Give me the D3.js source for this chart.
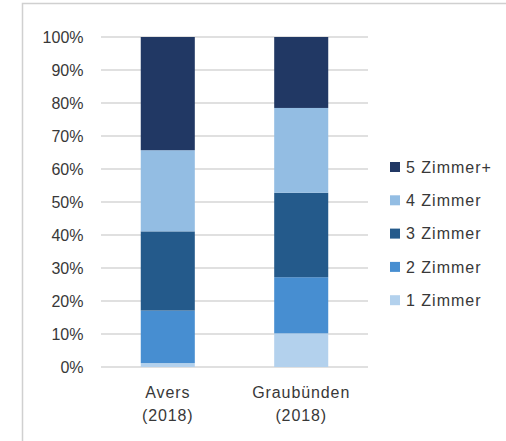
<!DOCTYPE html>
<html>
<head>
<meta charset="utf-8">
<script src="https://cdn.jsdelivr.net/npm/d3@7"></script>
<style>
  body { margin: 0; background: #fff; }
  svg text { font-family: "Liberation Sans", Arial, sans-serif; fill: #383838; }
</style>
</head>
<body>
<div class="chart"></div>
<script>
(function() {
  'use strict';

  // data (shares in %)
  const categories = [['Avers', '(2018)'], ['Graubünden', '(2018)']],
        series = ['1 Zimmer', '2 Zimmer', '3 Zimmer', '4 Zimmer', '5 Zimmer+'],
        zimmer1 = [1.2, 10.2],
        zimmer2 = [15.9, 17.0],
        zimmer3 = [24.0, 25.6],
        zimmer4 = [24.6, 25.7],
        zimmer5 = [34.3, 21.5],
        yTicks = [0, 10, 20, 30, 40, 50, 60, 70, 80, 90, 100];

  const colors = ['#b3d1ed', '#478ed1', '#245a8b', '#93bde3', '#213864'];

  const width = 506, height = 441;

  const svg = d3.select('.chart')
    .append('svg')
    .attr('width', width)
    .attr('height', height);

  // outer frame
  svg.append('path')
    .attr('d', `M22.5,${height} V3.5 H${width}`)
    .attr('fill', 'none')
    .attr('stroke', '#d0d0d0')
    .attr('stroke-width', 1.5);

  const x = d3.scaleBand()
    .domain(categories.map(d => d[0]))
    .range([101, 368])
    .paddingInner(0.595)
    .paddingOuter(0.298);

  const y = d3.scaleLinear()
    .domain([0, 100])
    .range([367, 37]);

  // gridlines
  svg.append('g')
    .selectAll('line')
    .data(yTicks)
    .enter()
    .append('line')
      .attr('x1', 101)
      .attr('x2', 368)
      .attr('y1', d => y(d))
      .attr('y2', d => y(d))
      .attr('stroke', '#d6d6d6')
      .attr('stroke-width', 1.5);

  // y axis labels
  const yAxis = svg.append('g')
    .attr('transform', 'translate(83.5,0)')
    .call(d3.axisLeft(y).tickValues(yTicks).tickSize(0).tickPadding(0).tickFormat(d => d + '%'));
  yAxis.select('.domain').remove();
  yAxis.selectAll('text')
    .style('font-size', '16px')
    .attr('dy', '0.36em');

  // stacks
  const rows = categories.map((c, i) => ({
    cat: c[0],
    '1 Zimmer': zimmer1[i],
    '2 Zimmer': zimmer2[i],
    '3 Zimmer': zimmer3[i],
    '4 Zimmer': zimmer4[i],
    '5 Zimmer+': zimmer5[i]
  }));

  const stacked = d3.stack().keys(series)(rows);

  svg.append('g')
    .selectAll('g')
    .data(stacked)
    .enter()
    .append('g')
      .attr('fill', (d, i) => colors[i])
    .selectAll('rect')
    .data(d => d)
    .enter()
    .append('rect')
      .attr('x', d => x(d.data.cat))
      .attr('width', x.bandwidth())
      .attr('y', d => y(d[1]))
      .attr('height', d => y(d[0]) - y(d[1]));

  // category labels
  const xl = svg.append('g')
    .selectAll('text')
    .data(categories)
    .enter()
    .append('text')
      .attr('x', d => x(d[0]) + x.bandwidth() / 2)
      .attr('y', 398)
      .attr('text-anchor', 'middle')
      .style('font-size', '16px')
      .style('letter-spacing', '0.9px');
  xl.append('tspan').attr('x', function() { return this.parentNode.getAttribute('x'); }).text(d => d[0]);
  xl.append('tspan').attr('x', function() { return this.parentNode.getAttribute('x'); }).attr('dy', 23).text(d => d[1]);

  // legend, top entry = last series
  const legend = svg.append('g')
    .selectAll('g')
    .data(series.slice().reverse())
    .enter()
    .append('g')
      .attr('transform', (d, i) => `translate(390,${167 + i * 33.3})`);

  legend.append('rect')
    .attr('x', 0)
    .attr('y', -5)
    .attr('width', 10)
    .attr('height', 10)
    .attr('fill', d => colors[series.indexOf(d)]);

  legend.append('text')
    .attr('x', 16)
    .attr('dy', '0.36em')
    .style('font-size', '16px')
    .style('letter-spacing', '1px')
    .text(d => d);

})();
</script>
</body>
</html>
